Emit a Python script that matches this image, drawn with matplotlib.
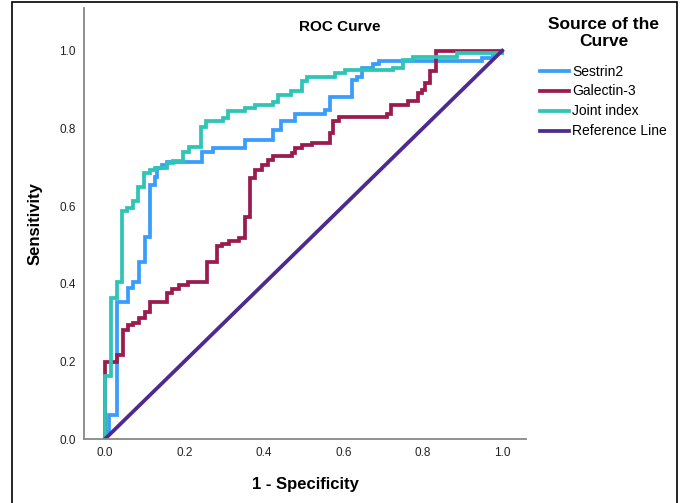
import matplotlib
matplotlib.use("Agg")
import matplotlib.pyplot as plt
from matplotlib.lines import Line2D
from matplotlib.patches import Rectangle

plt.rcParams['font.family'] = ['Liberation Sans', 'DejaVu Sans']

# ROC step vertices (1 - specificity, sensitivity)
sestrin2_fpr = [0, 0, 0.010, 0.029, 0.059, 0.071, 0.086, 0.101, 0.113, 0.126, 0.131, 0.144, 0.156,
                0.244, 0.272, 0.353, 0.423, 0.443, 0.479, 0.554, 0.567, 0.622, 0.635, 0.647,
                0.675, 0.690, 0.950, 0.977, 1.0]
sestrin2_tpr = [0, 0.018, 0.062, 0.354, 0.388, 0.405, 0.457, 0.521, 0.655, 0.675, 0.698, 0.706, 0.714,
                0.740, 0.750, 0.771, 0.796, 0.820, 0.838, 0.848, 0.881, 0.925, 0.933, 0.956,
                0.966, 0.974, 0.982, 0.995, 1.0]

galectin3_fpr = [0, 0, 0.029, 0.045, 0.059, 0.071, 0.086, 0.101, 0.113, 0.155, 0.168, 0.185, 0.210,
                 0.256, 0.281, 0.294, 0.311, 0.338, 0.353, 0.365, 0.378, 0.395, 0.411, 0.424,
                 0.470, 0.479, 0.496, 0.521, 0.567, 0.575, 0.588, 0.710, 0.720, 0.763, 0.789,
                 0.798, 0.806, 0.819, 0.834, 1.0]
galectin3_tpr = [0, 0.199, 0.216, 0.281, 0.294, 0.300, 0.311, 0.328, 0.354, 0.376, 0.386, 0.397, 0.405,
                 0.457, 0.496, 0.503, 0.509, 0.517, 0.573, 0.672, 0.693, 0.706, 0.719, 0.728,
                 0.736, 0.749, 0.758, 0.762, 0.788, 0.818, 0.829, 0.838, 0.861, 0.871, 0.891,
                 0.899, 0.917, 0.947, 1.0, 1.0]

joint_fpr = [0, 0, 0.015, 0.029, 0.042, 0.055, 0.071, 0.084, 0.099, 0.113, 0.126, 0.156, 0.171,
             0.196, 0.212, 0.241, 0.254, 0.297, 0.310, 0.353, 0.378, 0.423, 0.436, 0.469,
             0.496, 0.509, 0.579, 0.605, 0.725, 0.751, 0.776, 0.887, 1.0]
joint_tpr = [0, 0.162, 0.363, 0.405, 0.586, 0.595, 0.612, 0.650, 0.685, 0.693, 0.698, 0.711, 0.717,
             0.740, 0.752, 0.803, 0.818, 0.827, 0.846, 0.852, 0.859, 0.869, 0.887, 0.895,
             0.921, 0.932, 0.943, 0.951, 0.956, 0.977, 0.985, 0.995, 1.0]

ref_x = [0, 1]
ref_y = [0, 1]

series_names = ['Sestrin2', 'Galectin-3', 'Joint index', 'Reference Line']
colors = ['#3A9CFB', '#9B1B4F', '#2EC4B6', '#4E2A8E']
ticks = [0.0, 0.2, 0.4, 0.6, 0.8, 1.0]
tick_labels = ['0.0', '0.2', '0.4', '0.6', '0.8', '1.0']

fig = plt.figure(figsize=(6.8, 5.03), dpi=100)
ax = fig.add_axes([84/680, 1-439/503, (526-84)/680, (439-8)/503])

lw = 2.7
ax.step(sestrin2_fpr, sestrin2_tpr, where='post', color=colors[0], lw=lw, solid_joinstyle='miter')
ax.step(galectin3_fpr, galectin3_tpr, where='post', color=colors[1], lw=lw, solid_joinstyle='miter')
ax.step(joint_fpr, joint_tpr, where='post', color=colors[2], lw=lw, solid_joinstyle='miter')
ax.plot(ref_x, ref_y, color=colors[3], lw=lw)

ax.set_xlim(-0.053, 1.06)
ax.set_ylim(0, 1.11)
ax.set_xticks(ticks)
ax.set_xticklabels(tick_labels)
ax.set_yticks(ticks)
ax.set_yticklabels(tick_labels)
ax.tick_params(length=0, labelsize=8.5, pad=6, colors='#222222')
for s in ['top', 'right']:
    ax.spines[s].set_visible(False)
for s in ['left', 'bottom']:
    ax.spines[s].set_color('#888888')
    ax.spines[s].set_linewidth(1.3)

ax.set_xlabel('1 - Specificity', fontsize=12, fontweight='bold', labelpad=13)
ax.set_ylabel('Sensitivity', fontsize=12, fontweight='bold', labelpad=12)

fig.text(0.5, 1-27/503, 'ROC Curve', ha='center', va='center', fontsize=11, fontweight='bold')

fig.text(604/680, 1-33/503, 'Source of the\nCurve', ha='center', va='center',
         multialignment='center', fontsize=12.5, fontweight='bold', linespacing=1.15)

handles = [Line2D([0], [0], color=c, lw=lw) for c in colors]
leg = fig.legend(handles, series_names, loc='upper left',
                 bbox_to_anchor=(540/680, 1-64.5/503), bbox_transform=fig.transFigure,
                 frameon=False, fontsize=10, borderpad=0, borderaxespad=0,
                 handlelength=2.1, handletextpad=0.2, labelspacing=0.43)

fig.add_artist(Rectangle((12/680, -0.02), (677-12)/680, 1.02 - 2/503,
                         transform=fig.transFigure, fill=False, edgecolor='black', lw=1.2))

fig.savefig('out.png', dpi=100)
